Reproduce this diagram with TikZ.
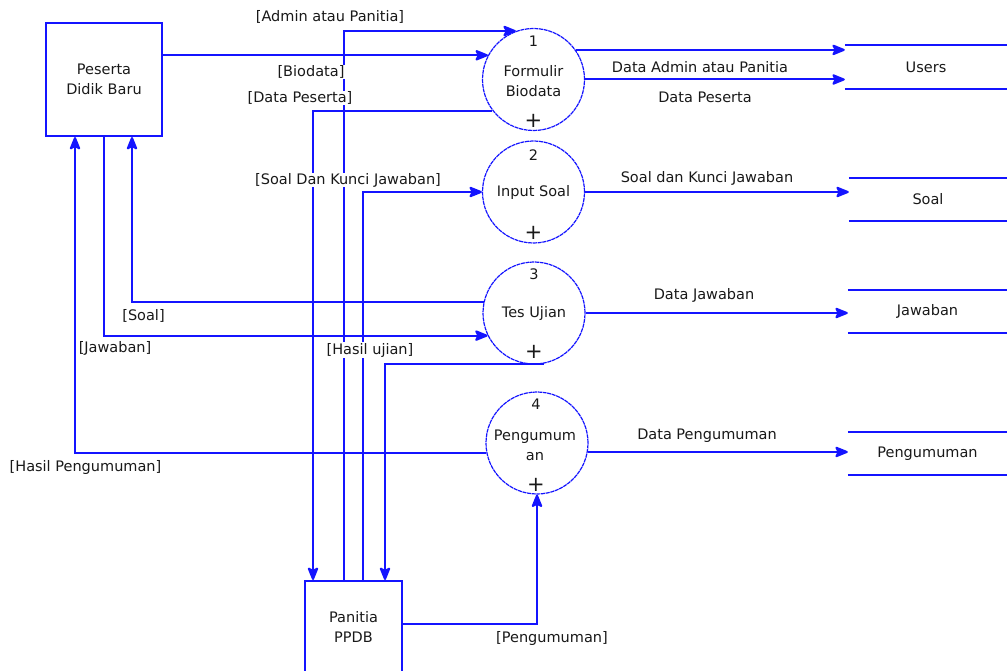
\documentclass[tikz,border=0pt]{standalone}
\usepackage{fontspec}
\setmainfont{DejaVu Sans}
\usetikzlibrary{arrows.meta,calc}
\definecolor{dfdblue}{RGB}{20,20,255}
\definecolor{dfdtext}{RGB}{25,25,25}
\begin{document}
\begin{tikzpicture}[x=1pt,y=-1pt,
  every node/.style={font=\fontsize{14.5}{20}\selectfont, text=dfdtext},
  flow/.style={draw=dfdblue, line width=2pt, -{Stealth[length=15pt,width=12pt,inset=3pt,round=false]}},
  plain/.style={draw=dfdblue, line width=2pt},
  proc/.style={circle, draw=dfdblue, line width=1.2pt, dash pattern=on 4pt off 0.7pt, minimum size=102pt, inner sep=0pt},
  ent/.style={rectangle, draw=dfdblue, line width=2pt, align=center, inner sep=0pt},
  store/.style={rectangle, inner sep=0pt},
  lbl/.style={fill=white, inner sep=0.5pt},
  ptxt/.style={align=center, inner sep=0pt},
  plus/.style={inner sep=0pt, font=\fontsize{21}{21}\selectfont},
]
\useasboundingbox (0,0) rectangle (1007,671);

% external entities
\node[ent, minimum width=116pt, minimum height=113pt] (peserta) at (104,79.5) {Peserta\\Didik Baru};
\node[ent, minimum width=97pt, minimum height=120pt, anchor=north] (panitia) at (353.5,580) {};
\node[ptxt] (panitiatxt) at (353.5,627) {Panitia\\PPDB};

% processes
\node[proc] (p1) at (533.5,79.5) {};
\node[proc] (p2) at (533.5,192) {};
\node[proc] (p3) at (534,313) {};
\node[proc] (p4) at (537,443) {};

\node[ptxt] (p1n) at ($(p1)+(0,-38)$) {1};
\node[ptxt] (p1t) at ($(p1)+(0,2)$) {Formulir\\Biodata};
\node[plus] (p1p) at ($(p1)+(0,41)$) {+};
\node[ptxt] (p2n) at ($(p2)+(0,-37)$) {2};
\node[ptxt] (p2t) at ($(p2)+(0,1)$) {Input Soal};
\node[plus] (p2p) at ($(p2)+(0,41)$) {+};
\node[ptxt] (p3n) at ($(p3)+(0,-39)$) {3};
\node[ptxt] (p3t) at ($(p3)+(0,0)$) {Tes Ujian};
\node[plus] (p3p) at ($(p3)+(0,39)$) {+};
\node[ptxt] (p4n) at ($(p4)+(-1,-39)$) {4};
\node[ptxt] (p4t) at ($(p4)+(-2,2)$) {Pengumum\\an};
\node[plus] (p4p) at ($(p4)+(-1,42)$) {+};

% data stores
\node[store, minimum width=162pt, minimum height=44pt] (users) at (926,67) {Users};
\node[store, minimum width=158pt, minimum height=43pt] (soal) at (928,199.5) {Soal};
\node[store, minimum width=159pt, minimum height=43pt] (jawaban) at (927.5,311.5) {Jawaban};
\node[store, minimum width=159pt, minimum height=43pt] (peng) at (927.5,453.5) {Pengumuman};
\foreach \s in {users,soal,jawaban,peng}{
  \draw[plain] (\s.north west) -- (\s.north east);
  \draw[plain] (\s.south west) -- (\s.south east);
}

% helper coordinates for vertical runs
\coordinate (vA) at (313,0);
\coordinate (vB) at (344,0);
\coordinate (vC) at (363,0);
\coordinate (vD) at (385,0);
\coordinate (pa) at (75,0);
\coordinate (pb) at (104,0);
\coordinate (pc) at (132,0);
\coordinate (hPeng) at (0,624);

% flows
\draw[flow] (panitia.north -| vB) |- (p1.110);
\draw[flow] (peserta.east |- p1.152) -- (p1.152);
\draw[flow] (p1.217) -| (panitia.north -| vA);
\draw[flow] (p1.35) -- (users.west |- p1.35);
\draw[flow] (p1.east) -- (users.west |- p1.east);
\draw[flow] (panitia.north -| vC) |- (p2.west);
\draw[flow] (p2.east) -- (soal.west |- p2.east);
\draw[flow] (p3.168) -| (peserta.south -| pc);
\draw[flow] (peserta.south -| pb) |- (p3.206);
\draw[flow] (p3.east) -- (jawaban.west |- p3.east);
\draw[flow] (p3.281) -| (panitia.north -| vD);
\draw[flow] (p4.191) -| (peserta.south -| pa);
\draw[flow] (p4.350) -- (peng.west |- p4.350);
\draw[flow] (panitia.east |- hPeng) -| (p4.south);

% labels
\node[lbl] (l1) at (330,17) {[Admin atau Panitia]};
\node[lbl] (l2) at (311,72) {[Biodata]};
\node[lbl] (l3) at (300,98) {[Data Peserta]};
\node[lbl] (l4) at (348,180) {[Soal Dan Kunci Jawaban]};
\node[lbl] (l5) at (143.5,316) {[Soal]};
\node[lbl] (l6) at (115,348) {[Jawaban]};
\node[lbl] (l7) at (370,350) {[Hasil ujian]};
\node[lbl] (l8) at (85.5,467) {[Hasil Pengumuman]};
\node[lbl] (l9) at (552,638) {[Pengumuman]};
\node[lbl] (l10) at (700,67) {Data Admin atau Panitia};
\node[lbl] (l11) at (705,97) {Data Peserta};
\node[lbl] (l12) at (707,178) {Soal dan Kunci Jawaban};
\node[lbl] (l13) at (704,295) {Data Jawaban};
\node[lbl] (l14) at (707,436) {Data Pengumuman};
\end{tikzpicture}
\end{document}
